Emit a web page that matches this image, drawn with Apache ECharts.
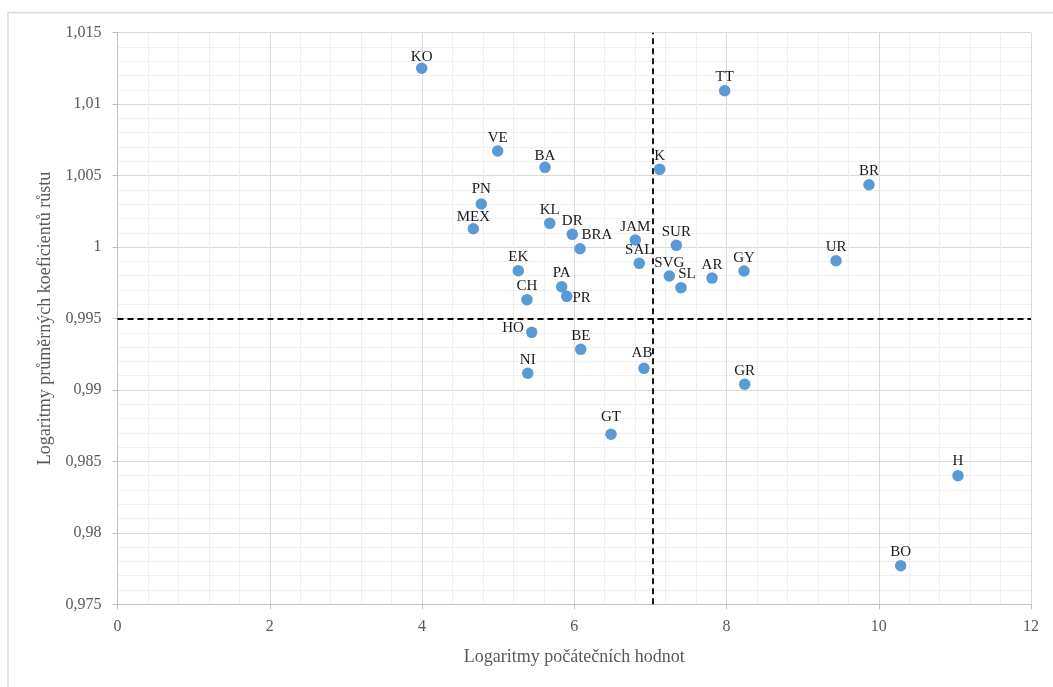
<!DOCTYPE html>
<html>
<head>
<meta charset="utf-8">
<script src="https://cdn.jsdelivr.net/npm/echarts@6/dist/echarts.min.js"></script>
<style>
html,body{margin:0;padding:0;background:#fff;}
#chart{width:1053px;height:687px;}
</style>
</head>
<body>
<div id="chart"></div>
<script>
// ---- data ----
const names = ['KO','TT','VE','BA','K','BR','PN','MEX','KL','DR','BRA','JAM','SUR','SAL','SVG','SL','AR','GY','UR','EK','CH','PA','PR','HO','BE','NI','AB','GR','GT','H','BO'];
const xValues = [3.996,7.976,4.994,5.616,7.122,9.872,4.779,4.674,5.678,5.974,6.076,6.802,7.341,6.854,7.249,7.402,7.810,8.230,9.439,5.265,5.379,5.835,5.901,5.441,6.085,5.389,6.916,8.239,6.483,11.041,10.288];
const yValues = [1.01251,1.01094,1.00672,1.00558,1.00544,1.00436,1.00301,1.00128,1.00166,1.00089,0.99988,1.00049,1.00012,0.99886,0.99797,0.99716,0.99783,0.99832,0.99904,0.99834,0.99632,0.99722,0.99655,0.99403,0.99284,0.99117,0.99151,0.99040,0.98690,0.98400,0.97770];
const refX = 7.03;
const refY = 0.995;
const xMin = 0, xMax = 12, xStep = 2;
const yMin = 0.975, yMax = 1.015, yStep = 0.005;
const xAxisName = 'Logaritmy počátečních hodnot';
const yAxisName = 'Logaritmy průměrných koeficientů růstu';

// ---- label placement tweaks (style only) ----
const labelTweaks = {
  BRA: {offset:[17,0]},
  SL: {offset:[6,0]},
  PR: {position:'right', distance:0, offset:[0,2]},
  HO: {position:'left', distance:2, offset:[0,-4]},
  KO: {offset:[0,2.5]},
  MEX: {offset:[0,2]},
  BA: {offset:[0,2]},
  PN: {offset:[0,-2]},
  GT: {offset:[0,-3.5]},
  AB: {offset:[-2,-2.5]},
  H: {offset:[0,-1.5]}
};

const serif = '"Liberation Serif","Times New Roman",serif';
const data = names.map((n,i)=>{
  const item = {name:n, value:[xValues[i], yValues[i]]};
  if (labelTweaks[n]) item.label = labelTweaks[n];
  return item;
});

const fmt = v => String(+(+v).toFixed(3)).replace('.', ',');

const chart = echarts.init(document.getElementById('chart'), null, {renderer:'canvas'});
chart.setOption({
  animation:false,
  backgroundColor:'#fff',
  graphic:[{
    type:'rect', z:-10, silent:true,
    shape:{x:8,y:12.5,width:1100,height:700},
    style:{fill:'none', stroke:'#d9d9d9', lineWidth:1.5}
  }],
  grid:{left:117.5, top:32.7, right:22, bottom:82.7, containLabel:false},
  xAxis:{
    type:'value', min:xMin, max:xMax, interval:xStep,
    name:xAxisName, nameLocation:'middle', nameGap:44,
    nameTextStyle:{fontFamily:serif, fontSize:18, color:'#595959'},
    axisLine:{show:true, onZero:false, lineStyle:{color:'#bfbfbf', width:1}},
    axisTick:{show:true, inside:false, length:5, lineStyle:{color:'#bfbfbf'}},
    axisLabel:{fontFamily:serif, fontSize:16, color:'#595959', margin:14, formatter:fmt},
    splitLine:{show:true, lineStyle:{color:'#d9d9d9', width:1}},
    minorTick:{show:false, splitNumber:5},
    minorSplitLine:{show:true, lineStyle:{color:'#efefef', width:1}}
  },
  yAxis:{
    type:'value', min:yMin, max:yMax, interval:yStep,
    name:yAxisName, nameLocation:'middle', nameGap:63, nameRotate:90,
    nameTextStyle:{fontFamily:serif, fontSize:18, color:'#595959'},
    axisLine:{show:true, onZero:false, lineStyle:{color:'#bfbfbf', width:1}},
    axisTick:{show:true, inside:false, length:5, lineStyle:{color:'#bfbfbf'}},
    axisLabel:{fontFamily:serif, fontSize:16, color:'#595959', margin:16, formatter:fmt},
    splitLine:{show:true, lineStyle:{color:'#d9d9d9', width:1}},
    minorTick:{show:false, splitNumber:5},
    minorSplitLine:{show:true, lineStyle:{color:'#efefef', width:1}}
  },
  series:[{
    type:'scatter',
    symbol:'circle',
    symbolSize:11.5,
    itemStyle:{color:'#5b9bd5', opacity:1},
    label:{
      show:true, position:'top', distance:0,
      formatter:p=>p.name,
      fontFamily:serif, fontSize:15, color:'#1a1a1a'
    },
    data:data,
    markLine:{
      silent:true, symbol:['none','none'], animation:false,
      label:{show:false},
      lineStyle:{color:'#000', width:1.8, type:[6,4]},
      data:[
        [{coord:[refX, yMin]}, {coord:[refX, yMax]}],
        [{coord:[xMin, refY]}, {coord:[xMax, refY]}]
      ]
    }
  }]
});
</script>
</body>
</html>
